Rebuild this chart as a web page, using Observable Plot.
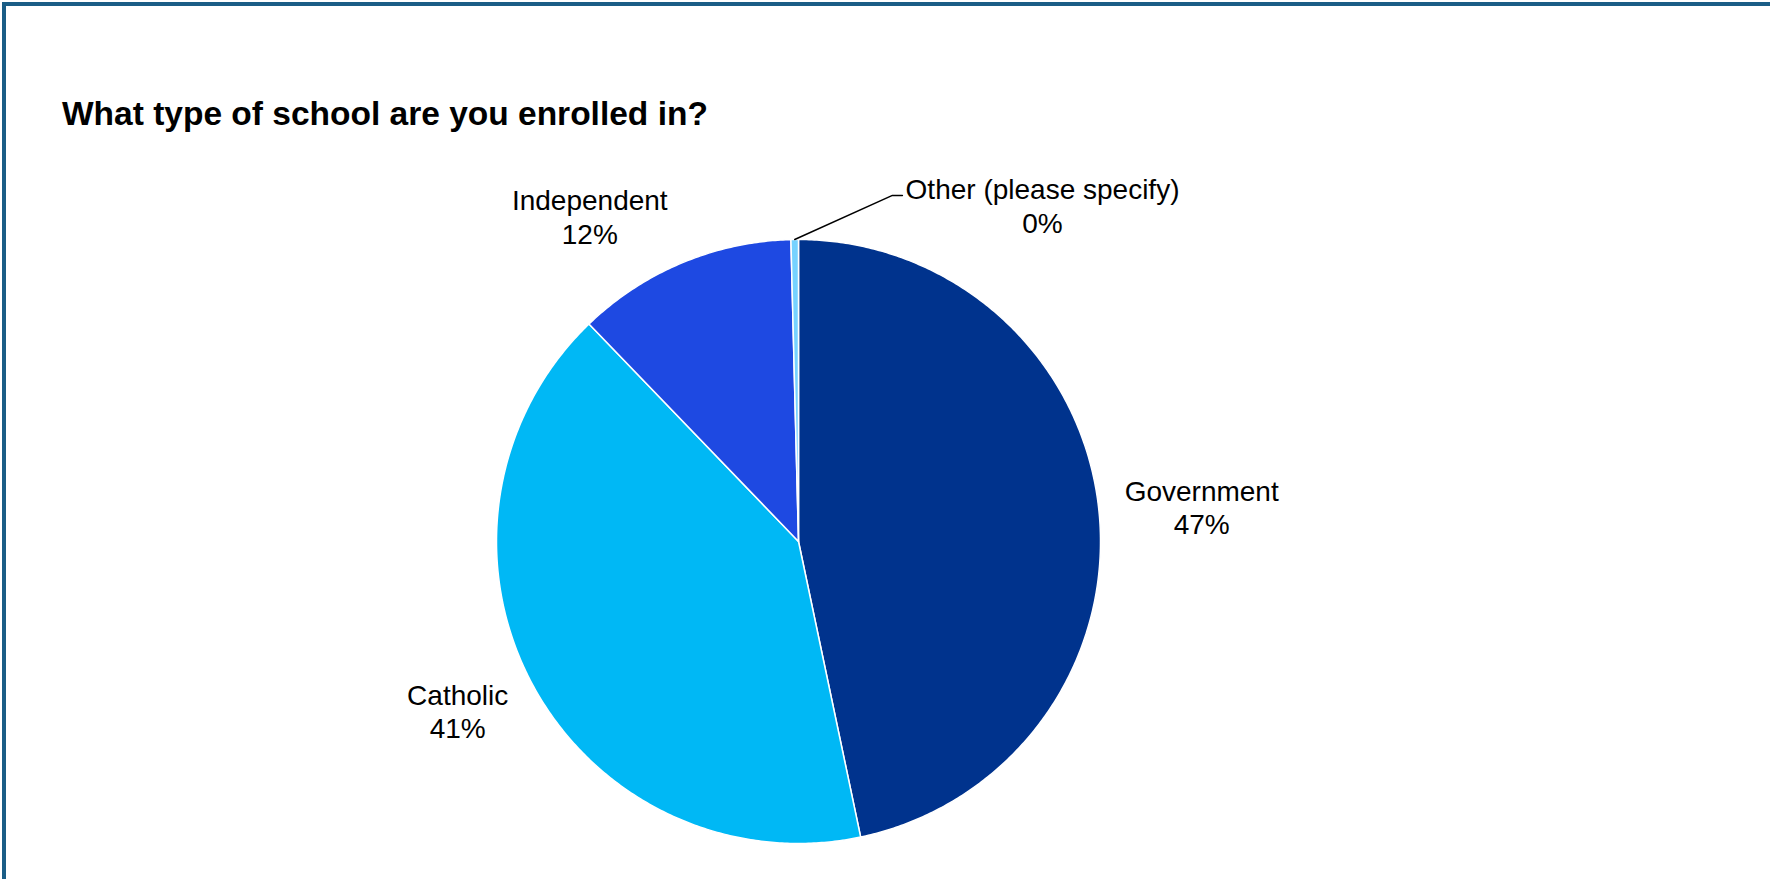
<!DOCTYPE html>
<html><head><meta charset="utf-8">
<script src="https://cdn.jsdelivr.net/npm/d3@7"></script>
<script src="https://cdn.jsdelivr.net/npm/@observablehq/plot@0.6"></script>
<style>
html,body{margin:0;padding:0;background:#fff;overflow:hidden;}
#wrap{position:relative;width:1770px;height:879px;overflow:hidden;font-family:"Liberation Sans",Arial,sans-serif;background:#fff;}
#frame{position:absolute;left:2px;top:2px;width:1900px;height:1000px;border-left:4px solid #1a5d86;border-top:4px solid #1a5d86;box-sizing:border-box;}
#title{position:absolute;left:62px;top:97px;font-size:33.5px;line-height:33px;font-weight:bold;color:#000;white-space:nowrap;}
#chart{position:absolute;left:0;top:0;}
</style></head><body>
<div id="wrap"><div id="frame"></div><div id="chart"></div><div id="title">What type of school are you enrolled in?</div></div>
<script>
// ---- data ----
const categories = ["Government", "Catholic", "Independent", "Other (please specify)"];
const shares = [46.7, 41.1, 11.8, 0.4];
const colors = ["#00338D", "#00B8F5", "#1E49E2", "#76D2FF"];

// ---- layout (chart units: pie radius = 1) ----
const labelAngleShift = [1, 1.5, -10];   // degrees, for first three labels
const labelRadius = [1.34, 1.26, 1.28];
const otherElbow = [[0.311, 1.146], [0.344, 1.146]];
const otherText = [0.808, 1.113];

const total = d3.sum(shares);
let acc = 0;
const slices = categories.map((c, i) => {
  const a0 = acc / total * 2 * Math.PI;
  acc += shares[i];
  const a1 = acc / total * 2 * Math.PI;
  return {cat: c, a0, a1, value: shares[i], pct: Math.round(shares[i]) + "%"};
});

const pts = [];
for (const s of slices) {
  pts.push({cat: s.cat, x: 0, y: 0});
  const n = Math.max(2, Math.ceil((s.a1 - s.a0) / (Math.PI / 360)));
  for (let k = 0; k <= n; k++) {
    const a = s.a0 + (s.a1 - s.a0) * k / n;
    pts.push({cat: s.cat, x: Math.sin(a), y: Math.cos(a)});
  }
}

const labels = slices.slice(0, 3).map((s, i) => {
  const a = (s.a0 + s.a1) / 2 + labelAngleShift[i] * Math.PI / 180;
  return {x: Math.sin(a) * labelRadius[i], y: Math.cos(a) * labelRadius[i], text: s.cat + "\n" + s.pct};
});
const o = slices[3];
const om = (o.a0 + o.a1) / 2;
const leader = [{x: Math.sin(om), y: Math.cos(om)}, {x: otherElbow[0][0], y: otherElbow[0][1]}, {x: otherElbow[1][0], y: otherElbow[1][1]}];
labels.push({x: otherText[0], y: otherText[1], text: o.cat + "\n" + o.pct});

const cx = 798, cy = 541, R = 302, W = 1770, H = 879;
const chart = Plot.plot({
  width: W, height: H,
  marginLeft: cx - R, marginRight: W - (cx + R), marginTop: cy - R, marginBottom: H - (cy + R),
  x: {domain: [-1, 1], axis: null},
  y: {domain: [-1, 1], axis: null},
  color: {domain: categories, range: colors},
  style: {fontFamily: "'Liberation Sans', Arial, sans-serif", background: "transparent", overflow: "visible"},
  marks: [
    Plot.line(pts, {x: "x", y: "y", z: "cat", fill: "cat", stroke: "white", strokeWidth: 1.5, curve: "linear-closed"}),
    Plot.line(leader, {x: "x", y: "y", stroke: "black", strokeWidth: 1.5}),
    Plot.text(labels, {x: "x", y: "y", text: "text", fontSize: 28, lineHeight: 1.2, fill: "black", textAnchor: "middle"})
  ]
});
document.getElementById("chart").appendChild(chart);
</script>
</body></html>
